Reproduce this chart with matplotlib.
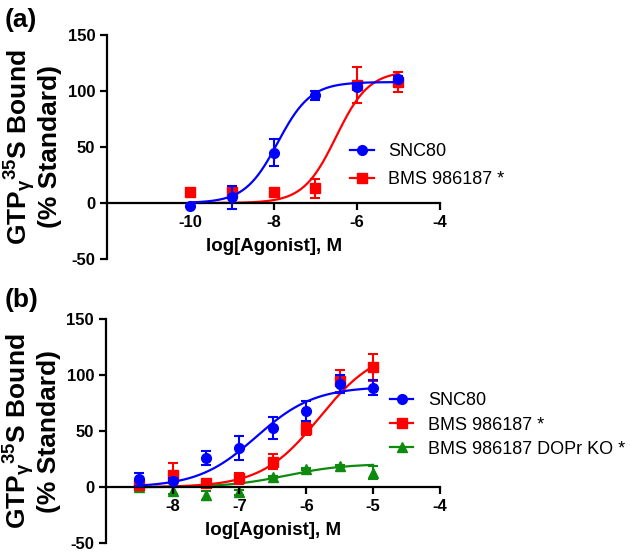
import numpy as np
import matplotlib
matplotlib.use("Agg")
import matplotlib.pyplot as plt

plt.rcParams["font.family"] = ["Liberation Sans", "DejaVu Sans"]
plt.rcParams["mathtext.fontset"] = "custom"
plt.rcParams["mathtext.rm"] = "Liberation Sans:bold"
plt.rcParams["mathtext.it"] = "Liberation Sans:bold"
plt.rcParams["mathtext.bf"] = "Liberation Sans:bold"
plt.rcParams["axes.unicode_minus"] = False

# ---- panel (a) data ----
a_x = [-10, -9, -8, -7, -6, -5]
a_snc_y = [-3, 5, 45, 96, 104, 111]
a_snc_err = [0, 10, 12, 4, 2, 2]
a_bms_y = [10, 10, 10, 13, 105, 108]
a_bms_err = [2, 2, 2, 8.5, 16, 9]
# fitted curve params: bottom, top, logEC50, hill
a_snc_fit = [0, 108, -7.9, 1.1]
a_bms_fit = [0, 118, -6.5, 1.1]

# ---- panel (b) data ----
b_x = [-8.5, -8, -7.5, -7, -6.5, -6, -5.5, -5]
b_snc_y = [7, 6, 26, 35, 53, 68, 92, 89]
b_snc_err = [6, 2, 6.5, 11, 10, 9, 8, 7]
b_bms_y = [2, 11, 4, 8, 23, 52, 95, 107]
b_bms_err = [2, 11, 1, 5, 7, 5, 10, 12]
b_ko_y = [0, -3, -7, -4.5, 9.5, 16, 19, 13]
b_ko_err = [0, 3, 4, 2, 1, 1, 1, 6]
b_snc_fit = [0, 90, -6.75, 1.0]
b_bms_fit = [0, 125, -5.8, 1.0]
b_ko_fit = [0, 21, -6.3, 1.0]

BLUE = "#0000FF"
RED = "#FF0000"
GREEN = "#0E8A0E"


def hill(x, p):
    bottom, top, logec50, h = p
    return bottom + (top - bottom) / (1 + 10 ** ((logec50 - x) * h))


def series(ax, x, y, err, fit, color, marker, ms, label, z):
    xs = np.linspace(min(x), max(x), 200)
    ax.plot(xs, hill(xs, fit), color=color, lw=1.6, zorder=z)
    ax.errorbar(x, y, yerr=err, fmt="none", ecolor=color, elinewidth=1.5,
                capsize=3.5, capthick=1.5, zorder=z)
    ax.plot(x, y, ls="none", marker=marker, color=color, ms=ms, zorder=z + 0.5)
    # legend proxy: line with marker
    ax.plot([], [], color=color, marker=marker, ms=ms, lw=1.6, label=label)


def style_axes(ax, xlim, xticks):
    ax.set_xlim(*xlim)
    ax.set_ylim(-50, 150)
    ax.set_yticks([-50, 0, 50, 100, 150])
    ax.set_xticks(xticks)
    ax.spines["top"].set_visible(False)
    ax.spines["right"].set_visible(False)
    ax.spines["bottom"].set_position(("data", 0))
    for s in ("left", "bottom"):
        ax.spines[s].set_linewidth(1.6)
    ax.tick_params(direction="out", length=5, width=1.6, labelsize=12)
    for lbl in ax.get_xticklabels() + ax.get_yticklabels():
        lbl.set_fontweight("bold")
    ax.set_xlabel("log[Agonist], M", fontsize=13.5, fontweight="bold", labelpad=6)
    ax.set_ylabel("GTP$_{γ}$$^{35}$S Bound\n(% Standard)", fontsize=19,
                  fontweight="bold", linespacing=1.0)
    ax.yaxis.set_label_coords(-0.135, 0.5)


fig = plt.figure(figsize=(6.3, 5.52), dpi=100)

ax1 = fig.add_axes([0.170, 0.5308, 0.5286, 0.4058])
series(ax1, a_x, a_bms_y, a_bms_err, a_bms_fit, RED, "s", 6.5, "BMS 986187 *", 2)
series(ax1, a_x, a_snc_y, a_snc_err, a_snc_fit, BLUE, "o", 7, "SNC80", 3)
style_axes(ax1, (-12, -4), [-10, -8, -6, -4])
h, l = ax1.get_legend_handles_labels()
ax1.legend(h[::-1], l[::-1], loc="center left", bbox_to_anchor=(0.53, 0.7),
           bbox_transform=fig.transFigure, frameon=False, fontsize=13,
           handlelength=1.3, handletextpad=0.8, labelspacing=0.6)
fig.text(0.008, 0.985, "(a)", fontsize=19, fontweight="bold", va="top")

ax2 = fig.add_axes([0.168, 0.0158, 0.5302, 0.4058])
series(ax2, b_x, b_ko_y, b_ko_err, b_ko_fit, GREEN, "^", 6.5, "BMS 986187 DOPr KO *", 1)
series(ax2, b_x, b_bms_y, b_bms_err, b_bms_fit, RED, "s", 6.5, "BMS 986187 *", 2)
series(ax2, b_x, b_snc_y, b_snc_err, b_snc_fit, BLUE, "o", 7, "SNC80", 3)
style_axes(ax2, (-9, -4), [-8, -7, -6, -5, -4])
h, l = ax2.get_legend_handles_labels()
ax2.legend(h[::-1], l[::-1], loc="center left", bbox_to_anchor=(0.593, 0.23),
           bbox_transform=fig.transFigure, frameon=False, fontsize=13,
           handlelength=1.3, handletextpad=0.8, labelspacing=0.4)
fig.text(0.008, 0.478, "(b)", fontsize=19, fontweight="bold", va="top")

fig.savefig("out.png", dpi=100)
